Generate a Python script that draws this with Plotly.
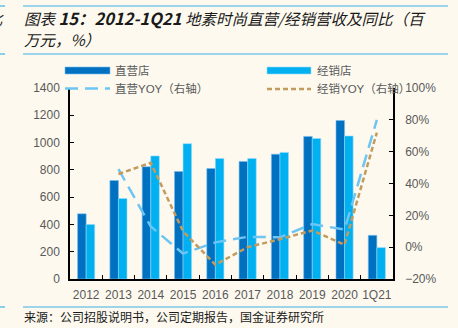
import plotly.graph_objects as go

categories = ["2012", "2013", "2014", "2015", "2016", "2017", "2018", "2019", "2020", "1Q21"]
direct_rev = [478, 722, 823, 788, 810, 862, 915, 1045, 1162, 320]
dist_rev = [400, 590, 902, 992, 883, 883, 928, 1030, 1048, 230]
direct_yoy = [None, 49, 13, -4, 3, 6.5, 6.2, 14.5, 11, 80]
dist_yoy = [None, 46, 53, 10, -11, 0, 5, 10.5, 1.5, 72]

W, H = 458, 328
L, R, T, B = 70, 393, 88, 279
BG = "#FDF9EF"
C_DIRECT = "#0070C0"
C_DIST = "#00B0F0"
C_DYOY = "#6CC5F2"
C_TYOY = "#C39B5C"
FONT = "Liberation Sans, Arial, Noto Sans CJK SC, sans-serif"
CJK = "Noto Sans CJK SC, sans-serif"


def px(x):
    return (x - L) / (R - L)


def py(y):
    return (B - y) / (B - T)


fig = go.Figure()
fig.add_trace(go.Bar(x=categories, y=direct_rev, name="直营店", marker=dict(color=C_DIRECT, line=dict(color="rgba(120,190,240,0.6)", width=1)), showlegend=False))
fig.add_trace(go.Bar(x=categories, y=dist_rev, name="经销店", marker=dict(color=C_DIST, line=dict(color="rgba(150,220,250,0.6)", width=1)), showlegend=False))
fig.add_trace(go.Scatter(x=categories, y=direct_yoy, yaxis="y2", mode="lines", name="直营YOY（右轴）",
                         line=dict(color=C_DYOY, width=2.5, dash="13px,7px"), showlegend=False))
fig.add_trace(go.Scatter(x=categories, y=dist_yoy, yaxis="y2", mode="lines", name="经销YOY（右轴）",
                         line=dict(color=C_TYOY, width=2.5, dash="5px,3px"), showlegend=False))

shapes = []
annotations = []

# header / footer rules
for (x0, x1, y) in [(23, 448, 6), (23, 448, 54), (23, 448, 307), (0, 5, 6), (0, 5, 54), (0, 5, 307)]:
    shapes.append(dict(type="line", xref="paper", yref="paper", x0=px(x0), x1=px(x1), y0=py(y), y1=py(y),
                       line=dict(color="#3DB1E6", width=1.2)))

# custom legend
shapes.append(dict(type="rect", xref="paper", yref="paper", x0=px(65), x1=px(110), y0=py(74), y1=py(67),
                   fillcolor=C_DIRECT, line=dict(color="rgba(120,190,240,0.6)", width=1)))
shapes.append(dict(type="rect", xref="paper", yref="paper", x0=px(267), x1=px(311), y0=py(74), y1=py(67),
                   fillcolor=C_DIST, line=dict(color="rgba(150,220,250,0.6)", width=1)))
shapes.append(dict(type="line", xref="paper", yref="paper", x0=px(65), x1=px(110), y0=py(88.5), y1=py(88.5),
                   line=dict(color=C_DYOY, width=2.5, dash="13px,7px")))
shapes.append(dict(type="line", xref="paper", yref="paper", x0=px(267), x1=px(311), y0=py(89), y1=py(89),
                   line=dict(color=C_TYOY, width=2.5, dash="5px,3px")))

legend_text = [("直营店", 113, 70.5), ("经销店", 315, 70.5), ("直营YOY（右轴）", 113, 88.5), ("经销YOY（右轴）", 315, 88.5)]
for t, x, y in legend_text:
    annotations.append(dict(text=t, xref="paper", yref="paper", x=px(x), y=py(y), xanchor="left", yanchor="middle",
                            showarrow=False, font=dict(family=FONT, size=11.5, color="#595959")))

# title
annotations.append(dict(text="<i>图表 <b><span style='font-size:16.5px'>15：2012-1Q21</span></b> 地素时尚直营/经销营收及同比（百</i>",
                        xref="paper", yref="paper",
                        x=px(22), y=py(17.5), xanchor="left", yanchor="middle", showarrow=False,
                        font=dict(family=CJK, size=15.5, color="#1a1a1a")))
annotations.append(dict(text="<i>万元，%）</i>", xref="paper", yref="paper",
                        x=px(22), y=py(39), xanchor="left", yanchor="middle", showarrow=False,
                        font=dict(family=CJK, size=15.5, color="#1a1a1a")))
annotations.append(dict(text="<i>比</i>", xref="paper", yref="paper",
                        x=px(6), y=py(17.5), xanchor="right", yanchor="middle", showarrow=False,
                        font=dict(family=CJK, size=15.5, color="#1a1a1a")))
# footer
annotations.append(dict(text="来源：公司招股说明书，公司定期报告，国金证券研究所", xref="paper", yref="paper",
                        x=px(22), y=py(316), xanchor="left", yanchor="middle", showarrow=False,
                        font=dict(family=CJK, size=12, color="#1a1a1a")))

fig.update_layout(
    width=W, height=H,
    margin=dict(l=L, r=W - R, t=T, b=H - B, pad=0),
    paper_bgcolor=BG, plot_bgcolor=BG,
    barmode="group", bargap=0.47, bargroupgap=0,
    showlegend=False,
    shapes=shapes, annotations=annotations,
    xaxis=dict(type="category", showline=True, linecolor="#000", linewidth=2, ticks="inside", tickson="boundaries",
               ticklen=4, tickcolor="#000", tickfont=dict(family=FONT, size=12, color="#595959"), showgrid=False,
               tickangle=0, ticklabelstandoff=4, zeroline=False),
    yaxis=dict(range=[0, 1400], dtick=200, showline=True, linecolor="#000", linewidth=1.5, ticks="inside",
               ticklen=4, tickcolor="#000", tickfont=dict(family=FONT, size=12, color="#595959"), showgrid=False,
               zeroline=False, ticklabelstandoff=6),
    yaxis2=dict(range=[-20, 100], dtick=20, overlaying="y", side="right", showline=True, linecolor="#000",
                linewidth=1.5, ticks="inside", ticklen=4, tickcolor="#000", ticksuffix="%",
                tickfont=dict(family=FONT, size=12, color="#595959"), showgrid=False, zeroline=False,
                ticklabelstandoff=8),
)

fig.write_html("out.html")
